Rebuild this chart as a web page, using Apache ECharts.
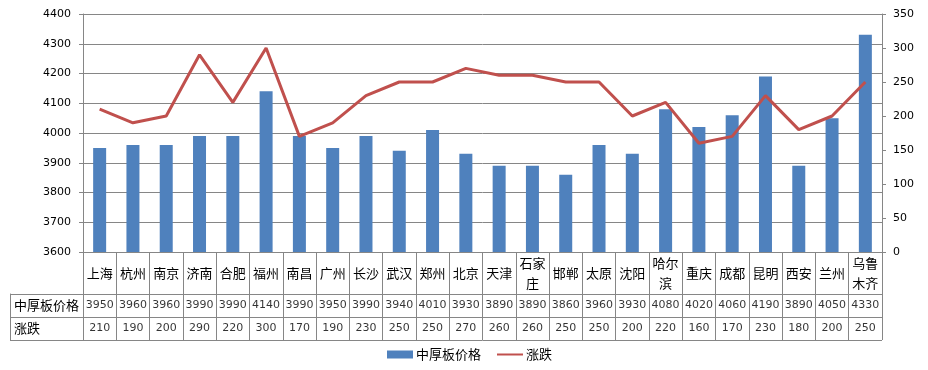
<!DOCTYPE html>
<html>
<head>
<meta charset="utf-8">
<script src="https://cdn.jsdelivr.net/npm/echarts@6/dist/echarts.min.js"></script>
<style>
html,body{margin:0;padding:0;background:#fff;}
#chart{width:928px;height:370px;}
</style>
</head>
<body>
<div id="chart"></div>
<script>
// ---- data ----
const cities = ['上海','杭州','南京','济南','合肥','福州','南昌','广州','长沙','武汉','郑州','北京','天津','石家庄','邯郸','太原','沈阳','哈尔滨','重庆','成都','昆明','西安','兰州','乌鲁木齐'];
const priceValues = [3950,3960,3960,3990,3990,4140,3990,3950,3990,3940,4010,3930,3890,3890,3860,3960,3930,4080,4020,4060,4190,3890,4050,4330];
const changeValues = [210,190,200,290,220,300,170,190,230,250,250,270,260,260,250,250,200,220,160,170,230,180,200,250];
const leftTicks = [3600,3700,3800,3900,4000,4100,4200,4300,4400];
const rightTicks = [0,50,100,150,200,250,300,350];
const priceName = '中厚板价格';
const changeName = '涨跌';
const rowNames = [priceName, changeName];

// ---- styles ----
const GRAY = '#868686';
const CJK = '"Noto Sans CJK SC", "DejaVu Sans", sans-serif';
const NUM = '"DejaVu Sans", sans-serif';

function wrapName(s) {
  if (s.length <= 2) return s;
  const parts = [];
  for (let i = 0; i < s.length; i += 2) parts.push(s.slice(i, i + 2));
  return parts.join('\n');
}

const chart = echarts.init(document.getElementById('chart'), null, {renderer: 'canvas'});

const priceCells = cities.map((c, i) => [c, priceName, priceValues[i]]);
const changeCells = cities.map((c, i) => [c, changeName, changeValues[i]]);

const option = {
  animation: false,
  backgroundColor: '#fff',
  grid: [
    {left: 83, right: 46, top: 14, height: 238},
    {left: 83, right: 46, top: 294, height: 46}
  ],
  legend: {
    data: [
      {name: priceName, icon: 'rect', itemStyle: {color: '#4F81BD'}},
      {name: changeName, icon: 'path://M0,0 L26,0 L26,2 L0,2 Z', itemStyle: {color: '#C0504D'}}
    ],
    left: 387,
    top: 348,
    padding: 0,
    itemWidth: 26,
    itemHeight: 8,
    itemGap: 16,
    textStyle: {fontFamily: CJK, fontSize: 13, color: '#000', padding: [0, 0, 0, -2]}
  },
  xAxis: [
    {
      type: 'category',
      gridIndex: 0,
      data: cities,
      boundaryGap: true,
      axisLine: {show: true, lineStyle: {color: GRAY, width: 1}},
      axisTick: {show: true, length: 88, interval: 0, alignWithLabel: false, lineStyle: {color: GRAY, width: 1}},
      axisLabel: {
        interval: 0,
        formatter: wrapName,
        fontFamily: CJK,
        fontSize: 13,
        color: '#000',
        lineHeight: 20,
        verticalAlign: 'middle',
        margin: 21
      },
      splitLine: {show: false}
    },
    {
      type: 'category',
      gridIndex: 1,
      data: cities,
      boundaryGap: true,
      axisLine: {show: false},
      axisTick: {show: false},
      axisLabel: {show: false},
      splitLine: {show: false}
    }
  ],
  yAxis: [
    {
      type: 'value',
      gridIndex: 0,
      min: leftTicks[0],
      max: leftTicks[leftTicks.length - 1],
      interval: leftTicks[1] - leftTicks[0],
      axisLine: {show: true, lineStyle: {color: GRAY, width: 1}},
      axisTick: {show: true, length: 4, lineStyle: {color: GRAY}},
      axisLabel: {fontFamily: NUM, fontSize: 11, color: '#000', margin: 12, formatter: v => String(v)},
      splitLine: {show: true, lineStyle: {color: GRAY, width: 1}}
    },
    {
      type: 'value',
      gridIndex: 0,
      position: 'right',
      min: rightTicks[0],
      max: rightTicks[rightTicks.length - 1],
      interval: rightTicks[1] - rightTicks[0],
      axisLine: {show: true, lineStyle: {color: GRAY, width: 1}},
      axisTick: {show: true, length: 4, lineStyle: {color: GRAY}},
      axisLabel: {fontFamily: NUM, fontSize: 11, color: '#000', margin: 11, formatter: v => String(v)},
      splitLine: {show: false}
    },
    {
      type: 'category',
      gridIndex: 1,
      data: rowNames,
      inverse: true,
      boundaryGap: true,
      axisLine: {show: true, lineStyle: {color: GRAY, width: 1}},
      axisTick: {show: true, length: 73, interval: 0, alignWithLabel: false, lineStyle: {color: GRAY, width: 1}},
      axisLabel: {interval: 0, align: 'left', margin: 69, fontFamily: CJK, fontSize: 13, color: '#000'},
      splitLine: {show: true, interval: 0, lineStyle: {color: GRAY, width: 1}}
    },
    {
      type: 'category',
      gridIndex: 1,
      data: rowNames,
      inverse: true,
      position: 'left',
      offset: 73,
      axisLine: {show: true, lineStyle: {color: GRAY, width: 1}},
      axisTick: {show: false},
      axisLabel: {show: false},
      splitLine: {show: false}
    }
  ],
  series: [
    {
      name: priceName,
      type: 'bar',
      xAxisIndex: 0,
      yAxisIndex: 0,
      data: priceValues,
      barWidth: 13,
      itemStyle: {color: '#4F81BD'}
    },
    {
      name: changeName,
      type: 'line',
      xAxisIndex: 0,
      yAxisIndex: 1,
      data: changeValues,
      symbol: 'none',
      lineStyle: {color: '#C0504D', width: 3},
      itemStyle: {color: '#C0504D'}
    },
    {
      name: 'priceRow',
      type: 'scatter',
      xAxisIndex: 1,
      yAxisIndex: 2,
      data: priceCells,
      symbolSize: 0,
      label: {show: true, position: 'inside', formatter: p => String(p.value[2]), fontFamily: NUM, fontSize: 11, color: '#000'}
    },
    {
      name: 'changeRow',
      type: 'scatter',
      xAxisIndex: 1,
      yAxisIndex: 2,
      data: changeCells,
      symbolSize: 0,
      label: {show: true, position: 'inside', formatter: p => String(p.value[2]), fontFamily: NUM, fontSize: 11, color: '#000'}
    }
  ]
};
chart.setOption(option);
</script>
</body>
</html>
